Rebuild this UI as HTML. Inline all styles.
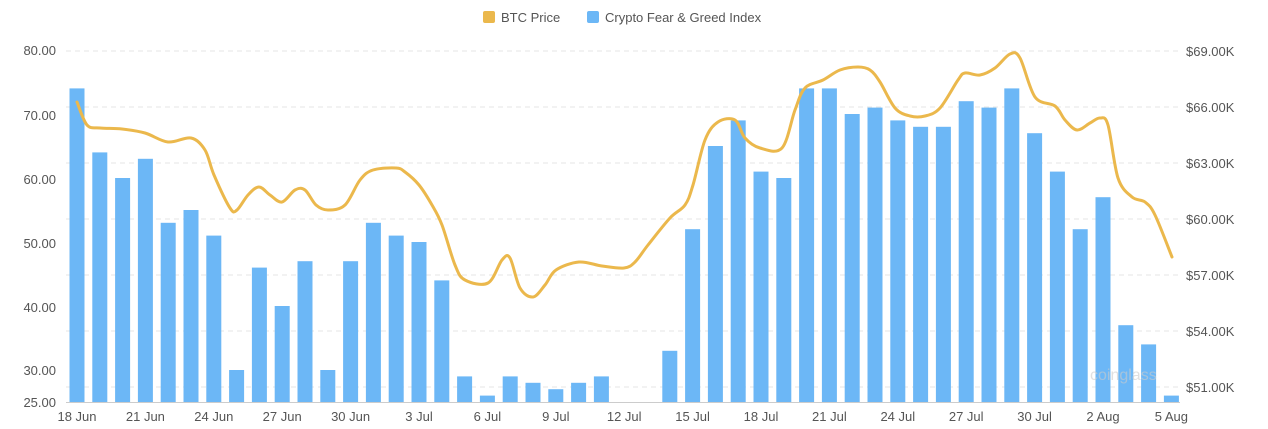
<!DOCTYPE html>
<html><head><style>
body{margin:0;background:#fff;}
svg{display:block;font-family:"Liberation Sans",sans-serif;}
</style></head><body>
<svg width="1268" height="429" viewBox="0 0 1268 429">
<rect width="1268" height="429" fill="#fff"/>
<g stroke="#e6e6e6" stroke-dasharray="5,4" stroke-width="1">
<line x1="66" x2="1180" y1="51" y2="51"/><line x1="66" x2="1180" y1="107" y2="107"/>
<line x1="66" x2="1180" y1="163" y2="163"/><line x1="66" x2="1180" y1="219" y2="219"/>
<line x1="66" x2="1180" y1="275" y2="275"/><line x1="66" x2="1180" y1="331" y2="331"/>
<line x1="66" x2="1180" y1="387" y2="387"/>
</g>
<line x1="66" x2="1180" y1="402.5" y2="402.5" stroke="#ccc"/>
<g id="bars" fill="#6cb7f6"></g>
<path id="line" fill="none" stroke="#ebb84c" stroke-width="3" stroke-linecap="round"/>
<g font-size="13" fill="#555" text-anchor="end">
<text x="56" y="55">80.00</text><text x="56" y="120">70.00</text><text x="56" y="184">60.00</text>
<text x="56" y="248">50.00</text><text x="56" y="312">40.00</text><text x="56" y="375">30.00</text><text x="56" y="407">25.00</text>
</g>
<g font-size="13" fill="#555" text-anchor="start">
<text x="1186" y="56">$69.00K</text><text x="1186" y="112">$66.00K</text><text x="1186" y="168">$63.00K</text>
<text x="1186" y="224">$60.00K</text><text x="1186" y="280">$57.00K</text><text x="1186" y="336">$54.00K</text><text x="1186" y="392">$51.00K</text>
</g>
<g font-size="13" fill="#555" text-anchor="middle" id="xl"></g>
<rect x="483" y="11" width="12" height="12" rx="2" fill="#ebb84c"/>
<text x="501" y="22" font-size="13" fill="#555">BTC Price</text>
<rect x="587" y="11" width="12" height="12" rx="2" fill="#6cb7f6"/>
<text x="605" y="22" font-size="13" fill="#555">Crypto Fear &amp; Greed Index</text>
<text x="1090" y="380" font-size="16" fill="#ccc" opacity="0.6">coinglass</text>
</svg>
<script>
var v=[74,64,60,63,53,55,51,30,46,40,47,30,47,53,51,50,44,29,26,29,28,27,28,29,null,null,33,52,65,69,61,60,74,74,70,71,69,68,68,72,71,74,67,61,52,57,37,34,26];
var b=document.getElementById('bars'),s='';
for(var i=0;i<v.length;i++){if(v[i]==null)continue;var x=77+i*22.8,t=402-(v[i]-25)*6.4;
s+='<rect x="'+(x-7.5)+'" y="'+t+'" width="15" height="'+(402-t)+'"/>';}
b.innerHTML=s;
var L=['18 Jun','21 Jun','24 Jun','27 Jun','30 Jun','3 Jul','6 Jul','9 Jul','12 Jul','15 Jul','18 Jul','21 Jul','24 Jul','27 Jul','30 Jul','2 Aug','5 Aug'],q='';
for(var j=0;j<L.length;j++)q+='<text x="'+(77+j*3*22.8)+'" y="421">'+L[j]+'</text>';
document.getElementById('xl').innerHTML=q;
var p=[[77,102],[87,125],[100,128],[122,129],[145,133],[168,142],[191,138],[205,150],[214,175],[230,208],[237,210],[248,195],[259,187],[270,195],[282,202],[295,190],[305,190],[316,205],[328,210],[345,205],[360,180],[373,170],[396,168],[405,172],[419,185],[432,205],[442,225],[455,265],[465,280],[488,283],[502,260],[510,258],[520,288],[533,297],[545,285],[556,270],[579,262],[602,266],[624,268],[635,262],[648,245],[670,218],[685,205],[693,185],[705,140],[718,122],[735,120],[745,138],[760,148],[782,148],[795,110],[805,88],[823,80],[840,70],[858,67],[870,70],[880,82],[895,108],[910,116],[925,116],[940,108],[958,80],[965,73],[980,75],[995,68],[1010,54],[1020,58],[1035,97],[1055,106],[1065,120],[1077,130],[1090,123],[1100,118],[1108,125],[1118,178],[1132,197],[1145,202],[1155,215],[1172,257]];
var d='M'+p[0][0]+','+p[0][1];
for(var k=0;k<p.length-1;k++){var a=p[k>0?k-1:0],c=p[k],e=p[k+1],f=p[k+2<p.length?k+2:k+1];
d+=' C'+(c[0]+(e[0]-a[0])/6)+','+(c[1]+(e[1]-a[1])/6)+' '+(e[0]-(f[0]-c[0])/6)+','+(e[1]-(f[1]-c[1])/6)+' '+e[0]+','+e[1];}
document.getElementById('line').setAttribute('d',d);
</script>
</body></html>
